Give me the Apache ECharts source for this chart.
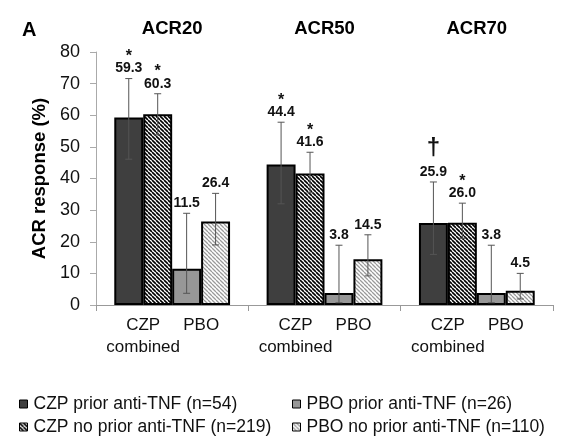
<!DOCTYPE html>
<html>
<head>
<meta charset="utf-8">
<script src="https://cdn.jsdelivr.net/npm/echarts@6/dist/echarts.min.js"></script>
<style>html,body{margin:0;padding:0;background:#fff}#c{width:574px;height:442px}</style>
</head>
<body>
<div id="c"></div>
<script>
// ---- data ----
const categories = ['ACR20', 'ACR50', 'ACR70'];
const groupLabelTop = ['CZP', 'PBO'];
const groupLabelBottom = 'combined';
const seriesNames = [
  'CZP prior anti-TNF (n=54)',
  'CZP no prior anti-TNF (n=219)',
  'PBO prior anti-TNF (n=26)',
  'PBO no prior anti-TNF (n=110)'
];
const czpPrior = [59.3, 44.4, 25.9];
const czpNoPrior = [60.3, 41.6, 26.0];
const pboPrior = [11.5, 3.8, 3.8];
const pboNoPrior = [26.4, 14.5, 4.5];
const czpPriorLow = [46.1, 32.0, 16.0];
const czpPriorHigh = [71.6, 57.8, 38.9];
const czpNoPriorLow = [53.8, 35.5, 21.1];
const czpNoPriorHigh = [66.8, 48.3, 32.2];
const pboPriorLow = [3.7, 0.7, 0.7];
const pboPriorHigh = [29.0, 18.9, 18.9];
const pboNoPriorLow = [19.0, 9.2, 1.9];
const pboNoPriorHigh = [35.3, 22.2, 10.0];
const czpPriorMark = ['*', '*', '\u2020'];
const czpNoPriorMark = ['*', '*', '*'];
const pboPriorMark = ['', '', ''];
const pboNoPriorMark = ['', '', ''];
const yTicks = [0, 10, 20, 30, 40, 50, 60, 70, 80];

// ---- build ----
const FONT = "'Liberation Sans', Arial, sans-serif";
const values = [czpPrior, czpNoPrior, pboPrior, pboNoPrior];
const lows = [czpPriorLow, czpNoPriorLow, pboPriorLow, pboNoPriorLow];
const highs = [czpPriorHigh, czpNoPriorHigh, pboPriorHigh, pboNoPriorHigh];
const marks = [czpPriorMark, czpNoPriorMark, pboPriorMark, pboNoPriorMark];
const GAP = 0.24;

function stripe(color, lw, s) {
  const c = document.createElement('canvas');
  c.width = s; c.height = s;
  const ctx = c.getContext('2d');
  ctx.fillStyle = '#fff';
  ctx.fillRect(0, 0, s, s);
  ctx.strokeStyle = color;
  ctx.lineWidth = lw;
  ctx.beginPath();
  for (let k = -1; k <= 1; k++) {
    ctx.moveTo(k * s, 0);
    ctx.lineTo(k * s + s, s);
  }
  ctx.stroke();
  return { image: c, repeat: 'repeat' };
}
const fills = ['#3f3f3f', stripe('#000', 1.6, 4), '#979797', stripe('#9a9a9a', 1.3, 4)];

const errData = [];
for (let s = 0; s < 4; s++) for (let c = 0; c < categories.length; c++) {
  errData.push([c, s, lows[s][c], highs[s][c]]);
}

const barSeries = seriesNames.map((n, i) => ({
  name: n, type: 'bar', data: values[i],
  barGap: '0%', barCategoryGap: (GAP * 100) + '%',
  itemStyle: { color: fills[i], borderColor: '#000', borderWidth: 2 },
  emphasis: { disabled: true }
}));

const errSeries = {
  type: 'custom', z: 10, silent: true,
  data: errData,
  encode: { x: 0, y: 3 },
  renderItem: function (params, api) {
    const c = api.value(0), s = api.value(1), lo = api.value(2), hi = api.value(3);
    const band = api.size([1, 0])[0];
    const bw = band * (1 - GAP) / 4;
    const cx = api.coord([c, 0])[0] + (s - 1.5) * bw;
    const yHi = api.coord([c, hi])[1], yLo = api.coord([c, lo])[1];
    const cap = 3.5;
    const ls = { stroke: '#555', lineWidth: 1 };
    const labelY = yHi - 10;
    const m = marks[s][c];
    const children = [
      { type: 'line', shape: { x1: cx, y1: yHi, x2: cx, y2: yLo }, style: ls },
      { type: 'line', shape: { x1: cx - cap, y1: yHi, x2: cx + cap, y2: yHi }, style: ls },
      { type: 'line', shape: { x1: cx - cap, y1: yLo, x2: cx + cap, y2: yLo }, style: ls },
      { type: 'text', x: cx, y: labelY, style: {
          text: values[s][c].toFixed(1), fill: '#111', font: 'bold 14px ' + FONT,
          align: 'center', verticalAlign: 'middle' } }
    ];
    if (m) {
      const dagger = m !== '*';
      children.push({ type: 'text', x: cx, y: labelY - (dagger ? 24 : 12), style: {
        text: m, fill: '#111', font: (dagger ? 'bold 24px ' : 'bold 16px ') + FONT,
        align: 'center', verticalAlign: 'middle' } });
    }
    return { type: 'group', children: children };
  }
};

const legendCommon = {
  orient: 'vertical', itemWidth: 8, itemHeight: 8, itemGap: 5, padding: 0,
  icon: 'rect',
  itemStyle: { borderColor: '#000', borderWidth: 1 },
  textStyle: { fontFamily: FONT, fontSize: 17.5, color: '#111', lineHeight: 18, padding: [0, 0, 0, 1] },
  selectedMode: false
};

const option = {
  animation: false,
  backgroundColor: '#fff',
  title: { text: 'A', left: 17, top: 15, textStyle: { fontFamily: FONT, fontWeight: 'bold', fontSize: 20, color: '#000' } },
  legend: [
    Object.assign({ left: 19, top: 395, data: [seriesNames[0], seriesNames[1]] }, legendCommon),
    Object.assign({ left: 292, top: 395, data: [seriesNames[2], seriesNames[3]] }, legendCommon)
  ],
  grid: { left: 96, right: 21, top: 52, bottom: 137, containLabel: false },
  xAxis: [
    {
      type: 'category', data: categories, position: 'bottom',
      axisLine: { lineStyle: { color: '#999', width: 1 } },
      axisTick: { show: true, length: 6, lineStyle: { color: '#999' } },
      axisLabel: {
        interval: 0, margin: 9, color: '#111', fontFamily: FONT, fontSize: 17,
        formatter: function () {
          return '{a|' + groupLabelTop[0] + '}{b|' + groupLabelTop[1] + '}\n{c|' + groupLabelBottom + '}';
        },
        rich: {
          a: { width: 58, align: 'center', fontSize: 17, fontFamily: FONT, color: '#111', lineHeight: 22 },
          b: { width: 58, align: 'center', fontSize: 17, fontFamily: FONT, color: '#111', lineHeight: 22 },
          c: { padding: [0, 58, 0, 0], align: 'center', fontSize: 17, fontFamily: FONT, color: '#111', lineHeight: 22 }
        }
      }
    },
    {
      type: 'category', data: categories, position: 'top',
      axisLine: { show: false }, axisTick: { show: false },
      axisLabel: { interval: 0, margin: 14, color: '#000', fontFamily: FONT, fontSize: 18.5, fontWeight: 'bold' }
    }
  ],
  yAxis: {
    type: 'value', min: yTicks[0], max: yTicks[yTicks.length - 1], interval: yTicks[1] - yTicks[0],
    name: 'ACR response (%)', nameLocation: 'middle', nameGap: 40,
    nameTextStyle: { fontFamily: FONT, fontSize: 18.5, fontWeight: 'bold', color: '#000' },
    axisLine: { show: true, lineStyle: { color: '#aaa' } },
    axisTick: { show: true, length: 6, lineStyle: { color: '#aaa' } },
    splitLine: { show: false },
    axisLabel: { margin: 16, color: '#111', fontFamily: FONT, fontSize: 18 }
  },
  series: barSeries.concat([errSeries])
};

const chart = echarts.init(document.getElementById('c'), null, { renderer: 'canvas' });
chart.setOption(option);
</script>
</body>
</html>
